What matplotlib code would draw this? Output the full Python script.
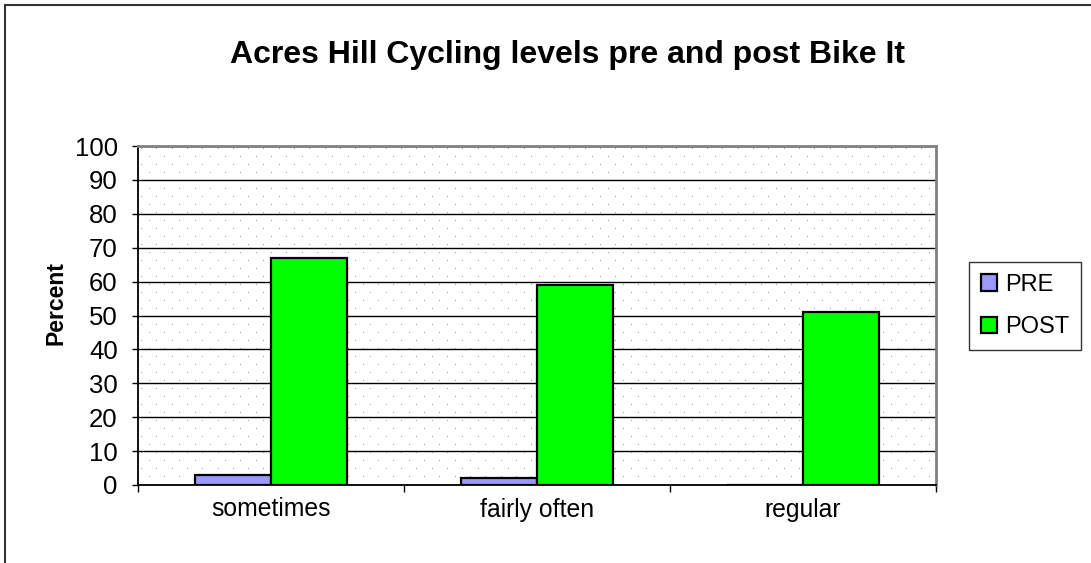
import numpy as np
import matplotlib
matplotlib.use("Agg")
import matplotlib.pyplot as plt
from matplotlib.lines import Line2D

categories = ["sometimes", "fairly often", "regular"]
pre_values = [3, 2, 0]
post_values = [67, 59, 51]
series_names = ["PRE", "POST"]
title = "Acres Hill Cycling levels pre and post Bike It"
ylabel = "Percent"

plt.rcParams['font.family'] = ['Liberation Sans', 'DejaVu Sans']

W, H = 1091, 563
fig = plt.figure(figsize=(W / 100, H / 100), dpi=100)
L, R, T, B = 138, 936, 146, 485
ax = fig.add_axes([L / W, 1 - B / H, (R - L) / W, (B - T) / H])
ax.set_autoscale_on(False)

# dotted background
pw, ph = R - L, B - T
img = np.ones((ph, pw, 3))
for r, yy in enumerate(range(2, ph, 8)):
    off = 0 if r % 2 == 0 else 7.65
    xs = np.arange(off + 3, pw, 15.3)
    for xx in xs:
        img[yy, int(round(xx))] = 0.62
ax.imshow(img, extent=(0, 1, 0, 1), transform=ax.transAxes, aspect='auto',
          interpolation='nearest', zorder=0)

x = np.arange(len(categories))
w = 0.2857
ax.bar(x - w / 2, pre_values, w, color='#9999FF', edgecolor='black', linewidth=1.6,
       label=series_names[0], zorder=3)
ax.bar(x + w / 2, post_values, w, color='#00FF00', edgecolor='black', linewidth=1.6,
       label=series_names[1], zorder=3)

ax.set_xlim(-0.5, len(categories) - 0.5)
ax.set_ylim(0, 100)
ax.set_yticks(range(0, 101, 10))
ax.yaxis.grid(True, color='black', linewidth=1.0, zorder=1)
ax.set_axisbelow(True)

ax.set_xticks(x)
ax.set_xticklabels(categories, fontsize=17.8)
ax.set_xticks(np.arange(-0.5, len(categories), 1.0), minor=True)
ax.tick_params(axis='x', which='major', length=0, pad=9)
ax.tick_params(axis='x', which='minor', length=5, width=1, direction='out')
ax.tick_params(axis='y', labelsize=18.5, length=4.5, width=1, direction='out', pad=10)

for s in ['left', 'bottom']:
    ax.spines[s].set_color('black')
    ax.spines[s].set_linewidth(1.3)
for s in ['top', 'right']:
    ax.spines[s].set_color('#808080')
    ax.spines[s].set_linewidth(2.0)

ax.set_ylabel(ylabel, fontsize=16.6, fontweight='bold')
ax.yaxis.set_label_coords(-0.088, 0.537)

fig.text(567.5 / W, 1 - 55 / H, title, fontsize=23, fontweight='bold',
         ha='center', va='center')

leg = ax.legend(loc='center', bbox_to_anchor=(1025 / W, 1 - 306 / H),
                bbox_transform=fig.transFigure, fontsize=17, frameon=True,
                fancybox=False, edgecolor='black', handlelength=0.7,
                handleheight=0.7, handletextpad=0.35, labelspacing=0.85,
                borderpad=0.5)
leg.get_frame().set_linewidth(1.0)
for h in leg.legend_handles:
    h.set_linewidth(1.6)

fig.add_artist(Line2D([5 / W, 5 / W], [0, 1 - 5 / H], color='#333333', linewidth=1.5,
                      transform=fig.transFigure))
fig.add_artist(Line2D([5 / W, 1], [1 - 5 / H, 1 - 5 / H], color='#333333', linewidth=1.5,
                      transform=fig.transFigure))

fig.savefig("out.png", dpi=100)
